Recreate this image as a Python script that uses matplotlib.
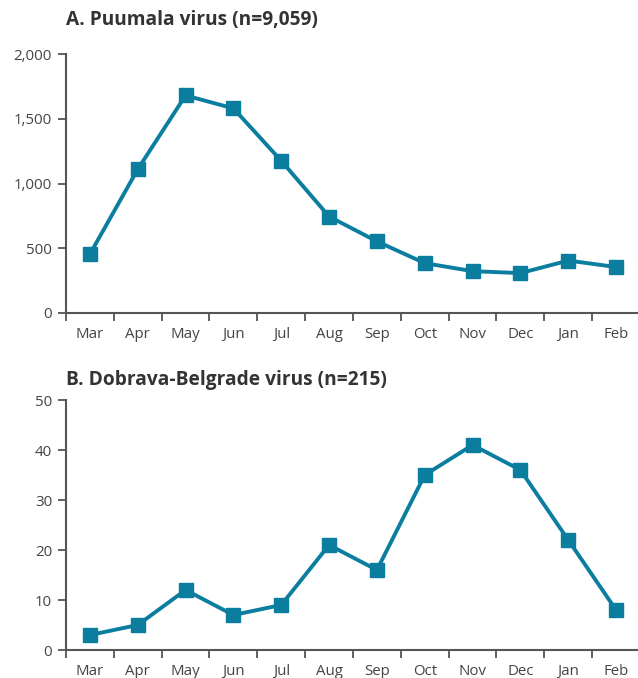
import matplotlib
matplotlib.use("Agg")
import matplotlib.pyplot as plt
import numpy as np

months = ["Mar", "Apr", "May", "Jun", "Jul", "Aug", "Sep", "Oct", "Nov", "Dec", "Jan", "Feb"]
puumala = [455, 1110, 1680, 1580, 1175, 745, 553, 385, 323, 308, 405, 355]
dobrava = [3, 5, 12, 7, 9, 21, 16, 35, 41, 36, 22, 8]
title_a = "A. Puumala virus (n=9,059)"
title_b = "B. Dobrava-Belgrade virus (n=215)"
yticks_a = [0, 500, 1000, 1500, 2000]
yticks_b = [0, 10, 20, 30, 40, 50]

plt.rcParams['font.family'] = ['Open Sans', 'DejaVu Sans']
LINE = "#0b7ea0"
AX = "#555555"
TXT = "#444444"

fig = plt.figure(figsize=(6.38, 6.78), dpi=100)
W, H = 638, 678

def make_ax(top_px, bottom_px):
    left = 66 / W
    right = 640 / W
    return fig.add_axes([left, 1 - bottom_px / H, right - left, (bottom_px - top_px) / H])

def style(ax, values, yticks, ylabels):
    x = np.arange(len(months))
    ax.plot(x, values, color=LINE, lw=2.8, marker="s", ms=10.5, mec=LINE, mfc=LINE, clip_on=False, zorder=3)
    ax.set_xlim(-0.5, len(months) - 0.5)
    ax.set_ylim(yticks[0], yticks[-1])
    ax.set_yticks(yticks)
    ax.set_yticklabels(ylabels)
    ax.set_xticks(x)
    ax.set_xticklabels(months)
    ax.set_xticks(np.arange(-0.5, len(months) - 1, 1.0), minor=True)
    ax.tick_params(axis="x", which="major", length=0, pad=10, labelsize=10.8, labelcolor=TXT)
    ax.tick_params(axis="x", which="minor", length=6, width=1.3, color=AX, direction="out")
    ax.tick_params(axis="y", length=6, width=1.3, color=AX, pad=4, labelsize=10.8, labelcolor=TXT)
    for s in ["top", "right"]:
        ax.spines[s].set_visible(False)
    for s in ["left", "bottom"]:
        ax.spines[s].set_color(AX)
        ax.spines[s].set_linewidth(1.5)

ax1 = make_ax(54, 313)
style(ax1, puumala, yticks_a, [f"{v:,}" for v in yticks_a])
ax2 = make_ax(400, 650)
style(ax2, dobrava, yticks_b, [str(v) for v in yticks_b])

fig.text(66 / W, 1 - 20 / H, title_a, fontsize=13.8, fontweight="bold", color="#333333", va="center", ha="left")
fig.text(66 / W, 1 - 380 / H, title_b, fontsize=13.8, fontweight="bold", color="#333333", va="center", ha="left")

fig.savefig("out.png", dpi=100)
